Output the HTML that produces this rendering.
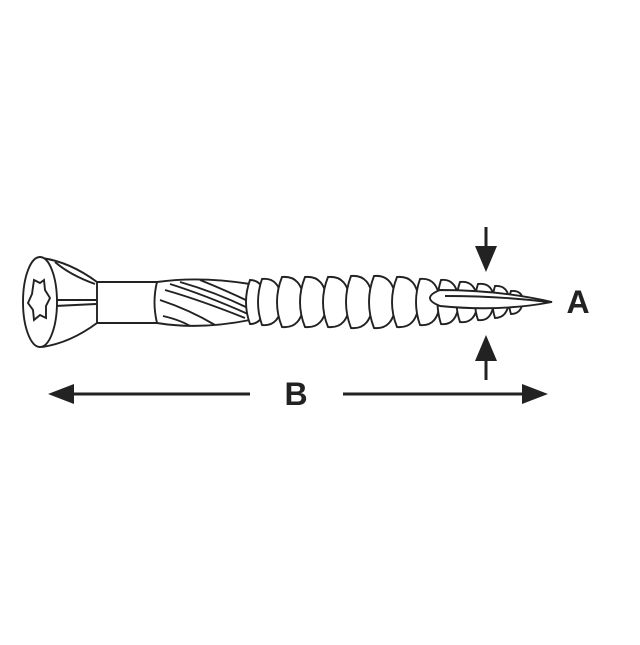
<!DOCTYPE html>
<html><head><style>body{margin:0;background:#fff}</style></head><body>
<svg width="640" height="640" viewBox="0 0 640 640" xmlns="http://www.w3.org/2000/svg">
<rect width="640" height="640" fill="#fff"/>
<g fill="none" stroke="#222" stroke-width="1.9">
<path d="M42 258 Q70 262 97 282 L97 323 Q70 343 42 347"/>
<path d="M55 262 Q70 275 95 284"/>
<path d="M55 300 L96 300 M55 306 L96 304"/>
<ellipse cx="40" cy="302" rx="17" ry="45" fill="#fff"/>
<path d="M34 280 L40 283 L44 280 L45 290 L50 298 L46 306 L46 318 L40 315 L34 320 L33 310 L28 303 L32 294 Z"/>
<path d="M97 282 L157 282 M97 323 L157 323"/>
<path d="M157 282 Q152 302 157 323"/>
<path d="M157 282 Q200 276 250 284 M157 323 Q200 330 250 320"/>
<path d="M165 290 Q200 300 245 318 M170 284 Q205 295 248 314 M180 282 Q215 292 248 308 M200 280 Q225 290 250 302 M160 300 Q190 310 215 325 M163 316 Q180 320 190 326"/>
<g fill="#fff">
<path d="M250 280 q14 0 16 22 q-2 22 -16 22 q-8 -22 0 -44z"/>
<path d="M262 279 q18 -2 20 23 q-2 25 -20 23 q-8 -23 0 -46z"/>
<path d="M282 277 q20 -2 22 25 q-2 27 -22 25 q-10 -25 0 -50z"/>
<path d="M305 277 q20 -2 22 25 q-2 27 -22 25 q-10 -25 0 -50z"/>
<path d="M328 277 q20 -2 22 25 q-2 27 -22 25 q-10 -25 0 -50z"/>
<path d="M351 276 q20 -2 22 26 q-2 28 -22 26 q-10 -26 0 -52z"/>
<path d="M374 276 q20 -2 22 26 q-2 28 -22 26 q-10 -26 0 -52z"/>
<path d="M397 277 q20 -2 22 25 q-2 27 -22 25 q-10 -25 0 -50z"/>
<path d="M420 279 q18 -2 20 23 q-2 25 -20 23 q-8 -23 0 -46z"/>
<path d="M441 280 q16 -2 18 22 q-2 24 -18 22 q-7 -22 0 -44z"/>
<path d="M460 282 q16 -2 18 20 q-2 22 -18 20 q-7 -20 0 -40z"/>
<path d="M478 284 q16 -2 16 18 q-2 20 -16 18 q-6 -18 0 -36z"/>
<path d="M495 286 q14 -1 14 16 q-2 16 -14 16 q-5 -16 0 -32z"/>
<path d="M511 291 q12 -1 12 11 q-2 12 -12 12 q-4 -12 0 -23z"/>
</g>
<path d="M440 290 Q500 290 552 302 Q500 312 440 306 Q420 298 440 290Z" fill="#fff"/>
<path d="M445 296 Q500 296 548 302"/>
</g>
<g stroke="#222" stroke-width="3" fill="#222">
<line x1="486" y1="227" x2="486" y2="250"/>
<path d="M475 246 L497 246 L486 272Z" stroke="none"/>
<line x1="486" y1="358" x2="486" y2="380"/>
<path d="M475 361 L497 361 L486 335Z" stroke="none"/>
<line x1="68" y1="394" x2="250" y2="394"/>
<line x1="343" y1="394" x2="530" y2="394"/>
<path d="M48 394 L74 384 L74 404Z" stroke="none"/>
<path d="M548 394 L522 384 L522 404Z" stroke="none"/>
</g>
<text x="296" y="405" font-family="Liberation Sans, sans-serif" font-weight="bold" font-size="32" text-anchor="middle" fill="#222">B</text>
<text x="578" y="313" font-family="Liberation Sans, sans-serif" font-weight="bold" font-size="32" text-anchor="middle" fill="#222">A</text>
</svg>
</body></html>
